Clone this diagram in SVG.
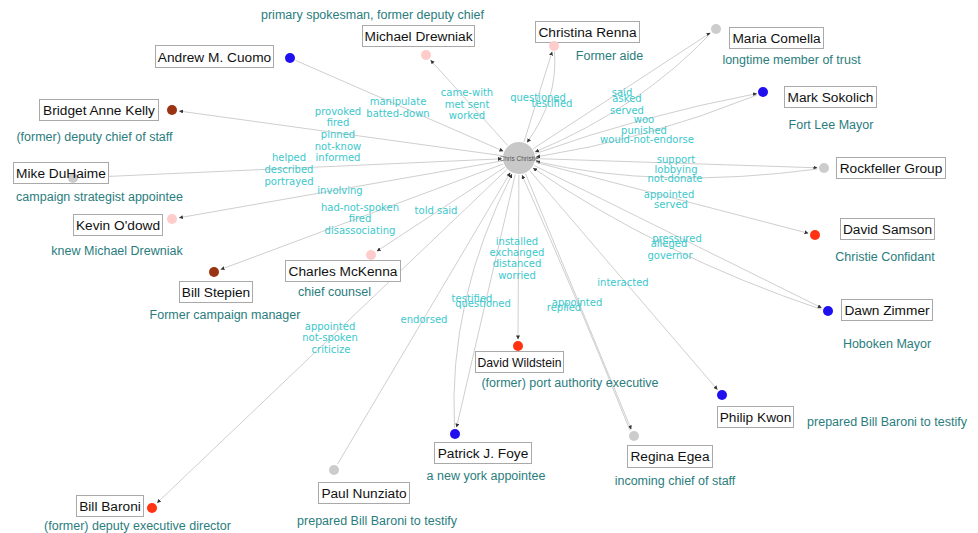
<svg xmlns="http://www.w3.org/2000/svg" width="978" height="533" viewBox="0 0 978 533">
<style>
.e{fill:none;stroke:#cfcfcf;stroke-width:1}
.b{fill:#fff;stroke:#a9a9a9;stroke-width:1}
.n{font-family:"Liberation Sans",Arial,sans-serif;font-size:13.7px;fill:#111;text-anchor:middle}
.s{font-family:"Liberation Sans",Arial,sans-serif;font-size:12.5px;fill:#2a7d7d;text-anchor:middle}
.l{font-family:"DejaVu Sans",Verdana,sans-serif;font-size:10px;fill:#3cc8cc;text-anchor:middle}
.blue{fill:#2010f0}.red{fill:#ff3311}.brown{fill:#993311}.pink{fill:#ffcccc}.gray{fill:#cccccc}
</style>
<defs>
<marker id="a" viewBox="0 0 4 4" refX="4" refY="2" markerWidth="4" markerHeight="4" markerUnits="userSpaceOnUse" orient="auto"><path d="M0,0L4,2L0,4z" fill="#333"/></marker>
</defs>
<rect width="978" height="533" fill="#fff"/>
<g id="connectors">
<path class="e" marker-end="url(#a)" d="M295.5,60.4 L503.4,151.2"/>
<path class="e" marker-end="url(#a)" d="M507.6,145.4 L430.5,60"/>
<path class="e" marker-end="url(#a)" d="M524,141.8 L552.2,51.5"/>
<path class="e" marker-end="url(#a)" d="M554.5,51.5 Q558,100 527,142.5"/>
<path class="e" marker-end="url(#a)" d="M533.2,148.7 L710.5,32.8"/>
<path class="e" marker-end="url(#a)" d="M710.5,33.5 Q640,108 535,152"/>
<path class="e" marker-end="url(#a)" d="M535.4,153.6 Q640,116 757,93.5"/>
<path class="e" marker-end="url(#a)" d="M757,95 Q645,140 536,157"/>
<path class="e" marker-end="url(#a)" d="M536,158.6 L817.5,167.8"/>
<path class="e" marker-end="url(#a)" d="M817.5,169 Q660,190 536,161.5"/>
<path class="e" marker-end="url(#a)" d="M535.5,162.3 L808.5,233.3"/>
<path class="e" marker-end="url(#a)" d="M534.2,165.5 L821.7,307.9"/>
<path class="e" marker-end="url(#a)" d="M821.5,309.5 Q660,255 533,168"/>
<path class="e" marker-end="url(#a)" d="M530,170.9 L717.5,389.7"/>
<path class="e" marker-end="url(#a)" d="M525.5,173.7 L631.3,429.5"/>
<path class="e" marker-end="url(#a)" d="M630,430.5 Q578,300 522,175"/>
<path class="e" marker-end="url(#a)" d="M518.9,175 L518,339.5"/>
<path class="e" marker-end="url(#a)" d="M515.2,174.6 L456.5,427.5"/>
<path class="e" marker-end="url(#a)" d="M454.5,427.5 Q448,300 512,174"/>
<path class="e" marker-end="url(#a)" d="M337.6,464 L510.3,172.6"/>
<path class="e" marker-end="url(#a)" d="M506.7,169.7 L157,503"/>
<path class="e" marker-end="url(#a)" d="M504.8,167.3 L376.8,251.2"/>
<path class="e" marker-end="url(#a)" d="M503.1,164 L220.5,269.5"/>
<path class="e" marker-end="url(#a)" d="M502.3,160.9 L178.9,217.8"/>
<path class="e" marker-end="url(#a)" d="M80,177.7 L502,158.8"/>
<path class="e" marker-end="url(#a)" d="M502.2,155.7 L179,111"/>
</g>
<g id="edge-labels">
<text class="l" x="398" y="104.5">manipulate</text>
<text class="l" x="398" y="116.5">batted-down</text>
<text class="l" x="467" y="95.5">came-with</text>
<text class="l" x="467" y="107.5">met sent</text>
<text class="l" x="467" y="118.5">worked</text>
<text class="l" x="538" y="100.5">questioned</text>
<text class="l" x="552" y="106.5">testified</text>
<text class="l" x="622" y="95.5">said</text>
<text class="l" x="627" y="101.5">asked</text>
<text class="l" x="627" y="113.5">served</text>
<text class="l" x="644" y="122.5">woo</text>
<text class="l" x="644" y="133.5">punished</text>
<text class="l" x="647" y="142.5">would-not-endorse</text>
<text class="l" x="676" y="162.5">support</text>
<text class="l" x="676" y="172.5">lobbying</text>
<text class="l" x="675" y="181.5">not-donate</text>
<text class="l" x="669" y="197.5">appointed</text>
<text class="l" x="671" y="207.5">served</text>
<text class="l" x="677" y="241.5">pressured</text>
<text class="l" x="669" y="246.5">alleged</text>
<text class="l" x="670" y="258.5">governor</text>
<text class="l" x="623" y="285.5">interacted</text>
<text class="l" x="577" y="305.5">appointed</text>
<text class="l" x="564" y="310.5">replied</text>
<text class="l" x="517" y="244.5">installed</text>
<text class="l" x="517" y="255.5">exchanged</text>
<text class="l" x="517" y="266.5">distanced</text>
<text class="l" x="517" y="278.5">worried</text>
<text class="l" x="472" y="301.5">testified</text>
<text class="l" x="483" y="306.5">questioned</text>
<text class="l" x="424" y="322.5">endorsed</text>
<text class="l" x="330" y="329.5">appointed</text>
<text class="l" x="330" y="340.5">not-spoken</text>
<text class="l" x="331" y="352.5">criticize</text>
<text class="l" x="436" y="213.5">told said</text>
<text class="l" x="360" y="210.5">had-not-spoken</text>
<text class="l" x="360" y="221.5">fired</text>
<text class="l" x="360" y="233.5">disassociating</text>
<text class="l" x="340" y="193.5">involving</text>
<text class="l" x="289" y="160.5">helped</text>
<text class="l" x="289" y="172.5">described</text>
<text class="l" x="289" y="184.5">portrayed</text>
<text class="l" x="338" y="114.5">provoked</text>
<text class="l" x="338" y="125.5">fired</text>
<text class="l" x="338" y="137.5">pinned</text>
<text class="l" x="338" y="149.5">not-know</text>
<text class="l" x="338" y="160.5">informed</text>
</g>
<g id="chris-christie">
<circle cx="519" cy="158" r="16" fill="#c8c8c8"/>
<text x="519" y="160.5" font-family="Liberation Sans, Arial, sans-serif" font-size="6.5" fill="#555" text-anchor="middle">Chris Christie</text>
</g>
<g id="andrew-cuomo">
<rect class="b" x="155.5" y="45.5" width="118" height="22"/>
<circle class="blue" cx="290" cy="58" r="5"/>
<text class="n" x="214.5" y="61.5">Andrew M. Cuomo</text>
</g>
<g id="michael-drewniak">
<rect class="b" x="362.5" y="25.5" width="112" height="21"/>
<circle class="pink" cx="426" cy="55" r="5"/>
<text class="n" x="418.5" y="41">Michael Drewniak</text>
<text class="s" x="372.5" y="18.5">primary spokesman, former deputy chief</text>
</g>
<g id="christina-renna">
<rect class="b" x="535.5" y="21.5" width="104" height="21"/>
<circle class="pink" cx="554" cy="46" r="5"/>
<text class="n" x="587.5" y="37">Christina Renna</text>
<text class="s" x="609.5" y="59.5">Former aide</text>
</g>
<g id="maria-comella">
<rect class="b" x="729.5" y="27.5" width="94" height="21"/>
<circle class="gray" cx="716" cy="29" r="5"/>
<text class="n" x="776.5" y="43">Maria Comella</text>
<text class="s" x="791.5" y="63.5">longtime member of trust</text>
</g>
<g id="mark-sokolich">
<rect class="b" x="784.5" y="86.5" width="92" height="21"/>
<circle class="blue" cx="763" cy="92" r="5"/>
<text class="n" x="830.5" y="102">Mark Sokolich</text>
<text class="s" x="831" y="128.5">Fort Lee Mayor</text>
</g>
<g id="rockfeller-group">
<rect class="b" x="836.5" y="157.5" width="109" height="21"/>
<circle class="gray" cx="824" cy="168" r="5"/>
<text class="n" x="891" y="173">Rockfeller Group</text>
</g>
<g id="david-samson">
<rect class="b" x="840.5" y="218.5" width="94" height="21"/>
<circle class="red" cx="815" cy="235" r="5"/>
<text class="n" x="887.5" y="234">David Samson</text>
<text class="s" x="885" y="260.5">Christie Confidant</text>
</g>
<g id="dawn-zimmer">
<rect class="b" x="841.5" y="299.5" width="91" height="21"/>
<circle class="blue" cx="828" cy="311" r="5"/>
<text class="n" x="887" y="315">Dawn Zimmer</text>
<text class="s" x="887" y="347.5">Hoboken Mayor</text>
</g>
<g id="philip-kwon">
<rect class="b" x="717.5" y="406.5" width="76" height="21"/>
<circle class="blue" cx="722" cy="395" r="5"/>
<text class="n" x="755.5" y="422">Philip Kwon</text>
<text class="s" x="887" y="425.5">prepared Bill Baroni to testify</text>
</g>
<g id="regina-egea">
<rect class="b" x="627.5" y="445.5" width="85" height="22"/>
<circle class="gray" cx="634" cy="436" r="5"/>
<text class="n" x="670" y="461">Regina Egea</text>
<text class="s" x="675" y="484.5">incoming chief of staff</text>
</g>
<g id="david-wildstein">
<rect class="b" x="475.5" y="351.5" width="88" height="21"/>
<circle class="red" cx="518" cy="346" r="5"/>
<text x="519.5" y="366.5" font-family="Liberation Sans, Arial, sans-serif" font-size="12.2" fill="#111" text-anchor="middle">David Wildstein</text>
<text class="s" x="570" y="386.5">(former) port authority executive</text>
</g>
<g id="patrick-foye">
<rect class="b" x="434.5" y="442.5" width="97" height="21"/>
<circle class="blue" cx="455" cy="434" r="5"/>
<text class="n" x="483" y="458">Patrick J. Foye</text>
<text class="s" x="486" y="479.5">a new york appointee</text>
</g>
<g id="paul-nunziato">
<rect class="b" x="318.5" y="482.5" width="91" height="21"/>
<circle class="gray" cx="334" cy="470" r="5"/>
<text class="n" x="364" y="498">Paul Nunziato</text>
<text class="s" x="377" y="524.5">prepared Bill Baroni to testify</text>
</g>
<g id="bill-baroni">
<rect class="b" x="76.5" y="495.5" width="67" height="21"/>
<circle class="red" cx="152" cy="508" r="5"/>
<text class="n" x="110" y="511" font-size="13">Bill Baroni</text>
<text class="s" x="137.5" y="529.5">(former) deputy executive director</text>
</g>
<g id="charles-mckenna">
<rect class="b" x="285.5" y="260.5" width="115" height="21"/>
<circle class="pink" cx="371" cy="255" r="5"/>
<text class="n" x="343" y="276">Charles McKenna</text>
<text class="s" x="334.5" y="295.5">chief counsel</text>
</g>
<g id="bill-stepien">
<rect class="b" x="179.5" y="281.5" width="73" height="21"/>
<circle class="brown" cx="214" cy="272" r="5"/>
<text class="n" x="216" y="297">Bill Stepien</text>
<text class="s" x="225" y="318.5">Former campaign manager</text>
</g>
<g id="kevin-odowd">
<rect class="b" x="73.5" y="214.5" width="89" height="21"/>
<circle class="pink" cx="172" cy="219" r="5"/>
<text class="n" x="118" y="230">Kevin O'dowd</text>
<text class="s" x="117" y="254.5">knew Michael Drewniak</text>
</g>
<g id="mike-duhaime">
<rect class="b" x="13.5" y="162.5" width="95" height="21"/>
<circle class="gray" cx="73" cy="178" r="5"/>
<text class="n" x="61" y="178">Mike DuHaime</text>
<text class="s" x="99.5" y="200.5">campaign strategist appointee</text>
</g>
<g id="bridget-kelly">
<rect class="b" x="39.5" y="99.5" width="119" height="21"/>
<circle class="brown" cx="172" cy="110" r="5"/>
<text class="n" x="99" y="115">Bridget Anne Kelly</text>
<text class="s" x="94.5" y="140.5">(former) deputy chief of staff</text>
</g>
</svg>
